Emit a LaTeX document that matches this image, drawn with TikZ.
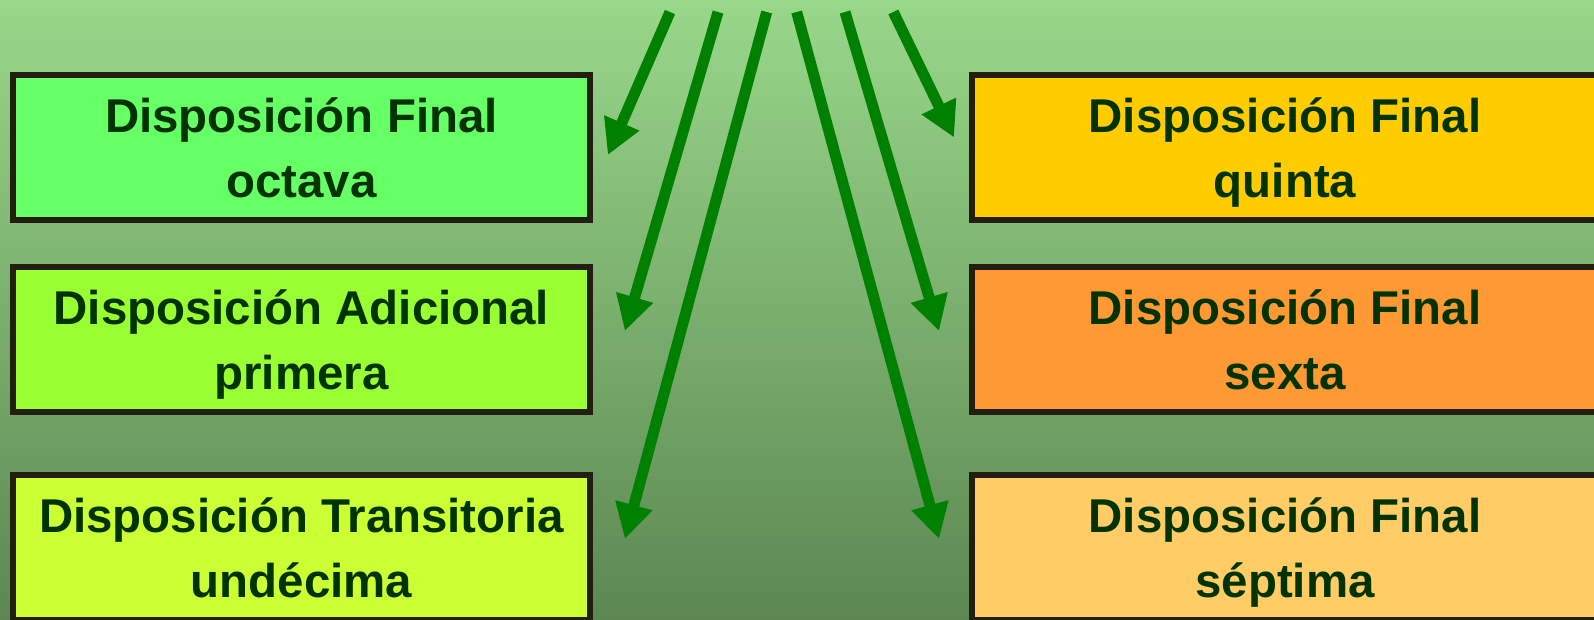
\documentclass[tikz,border=0pt]{standalone}
\usepackage{fontspec}
\setmainfont{Liberation Sans}
\usetikzlibrary{arrows.meta}
\definecolor{bgtop}{HTML}{99D78A}
\definecolor{bgbot}{HTML}{5C8752}
\definecolor{edge}{HTML}{231E10}
\definecolor{ink}{HTML}{003300}
\definecolor{arrgreen}{HTML}{008000}
\definecolor{fOctava}{HTML}{66FF66}
\definecolor{fAdicional}{HTML}{99FF33}
\definecolor{fTransit}{HTML}{CCFF33}
\definecolor{fQuinta}{HTML}{FFCC00}
\definecolor{fSexta}{HTML}{FF9933}
\definecolor{fSeptima}{HTML}{FFCC66}
\begin{document}
\begin{tikzpicture}[x=0.02cm, y=-0.02cm,
  box/.style={draw=edge, line width=0.12cm, minimum width=11.54cm, minimum height=2.9cm, inner sep=0pt, align=center, text=ink, font=\fontsize{27pt}{37pt}\selectfont\bfseries},
  wbox/.style={box, minimum width=12.52cm},
  arr/.style={draw=arrgreen, line width=0.22cm, -{Triangle[length=0.7cm, width=0.72cm]}}]
              \useasboundingbox (0,0) rectangle (1594,619);
              \shade[top color=bgtop, bottom color=bgbot] (0,0) rectangle (1594,619);
              \clip (0,0) rectangle (1594,619);

              \node[box, fill=fOctava] (octava) at (301.4,147.5) {Disposición Final\\\smash{octava}};
              \node[box, fill=fAdicional] (adicional) at (301.4,339.5) {Disposición Adicional\\\smash{primera}};
              \node[box, fill=fTransit] (transitoria) at (301.4,547.5) {Disposición Transitoria\\\smash{undécima}};

              \node[wbox, fill=fQuinta] (quinta) at (1285,147.5) {Disposición Final\\\smash{quinta}};
              \node[wbox, fill=fSexta] (sexta) at (1285,339.5) {Disposición Final\\\smash{sexta}};
              \node[wbox, fill=fSeptima] (septima) at (1285,547.5) {Disposición Final\\\smash{séptima}};

              \coordinate (s1) at (670,12);
              \coordinate (s2) at (718,12);
              \coordinate (s3) at (766.7,12);
              \coordinate (s4) at (796.7,12);
              \coordinate (s5) at (845,12);
              \coordinate (s6) at (893.3,12);

              \draw[arr] (s1) -- ([shift={(15,7.5)}]octava.east);
              \draw[arr] (s2) -- ([shift={(32,-8.5)}]adicional.east);
              \draw[arr] (s3) -- ([shift={(32,-8.5)}]transitoria.east);
              \draw[arr] (s4) -- ([shift={(-30,-8.5)}]septima.west);
              \draw[arr] (s5) -- ([shift={(-30,-8.5)}]sexta.west);
              \draw[arr] (s6) -- ([shift={(-15,-10)}]quinta.west);
            \end{tikzpicture}
\end{document}
